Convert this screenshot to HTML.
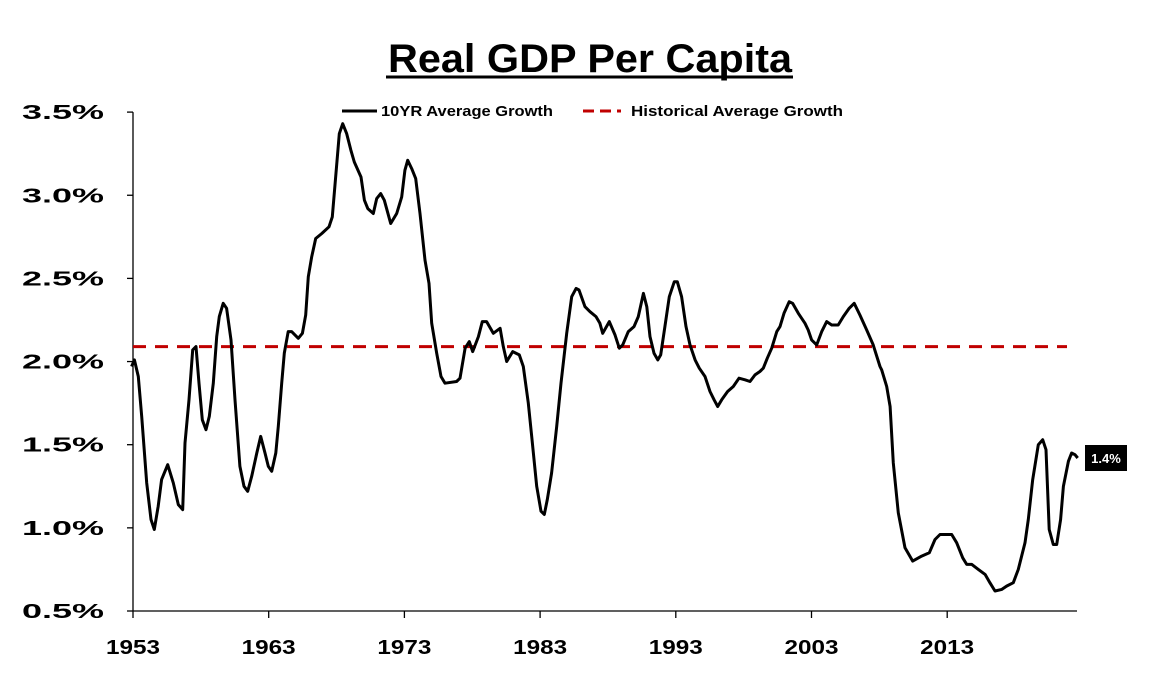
<!DOCTYPE html>
<html><head><meta charset="utf-8"><style>
html,body{margin:0;padding:0;background:#fff;}
svg{display:block;font-family:"Liberation Sans",sans-serif;}
</style></head><body>
<svg id="chart" width="1169" height="695" viewBox="0 0 1169 695">
<text x="388" y="72" textLength="404" lengthAdjust="spacingAndGlyphs" font-size="40" font-weight="bold" fill="#000">Real GDP Per Capita</text>
<line x1="386" y1="77" x2="793" y2="77" stroke="#000" stroke-width="3"/>
<g>
<line x1="342" y1="111" x2="377" y2="111" stroke="#000" stroke-width="3"/>
<text x="381" y="116" textLength="172" lengthAdjust="spacingAndGlyphs" font-size="15" font-weight="bold">10YR Average Growth</text>
<line x1="583" y1="111" x2="621" y2="111" stroke="#c00000" stroke-width="3" stroke-dasharray="11,6"/>
<text x="631" y="116" textLength="212" lengthAdjust="spacingAndGlyphs" font-size="15" font-weight="bold">Historical Average Growth</text>
</g>
<g id="axes"></g>
<g id="marks"></g>
</svg>
<script>
const years=[1952.9,1953.1,1953.39,1953.64,1954.01,1954.33,1954.57,1954.86,1955.11,1955.56,1955.97,1956.34,1956.66,1956.83,1957.13,1957.4,1957.64,1957.86,1958.11,1958.38,1958.62,1958.92,1959.17,1959.36,1959.65,1959.9,1960.22,1960.52,1960.88,1961.18,1961.45,1961.75,1962.12,1962.41,1962.73,1962.97,1963.22,1963.52,1963.71,1963.96,1964.15,1964.44,1964.69,1965.18,1965.48,1965.73,1965.92,1966.17,1966.46,1966.91,1967.44,1967.69,1967.89,1968.2,1968.45,1968.75,1969.06,1969.31,1969.8,1970.05,1970.3,1970.71,1970.96,1971.25,1971.52,1971.99,1972.43,1972.8,1973.04,1973.24,1973.54,1973.83,1974.15,1974.52,1974.81,1975.01,1975.38,1975.7,1975.99,1976.85,1977.1,1977.47,1977.78,1978.03,1978.45,1978.74,1979.06,1979.55,1980.05,1980.29,1980.54,1980.98,1981.47,1981.76,1982.13,1982.38,1982.75,1983.07,1983.31,1983.53,1983.85,1984.22,1984.54,1984.96,1985.33,1985.65,1985.87,1986.31,1986.68,1987.12,1987.41,1987.61,1988.1,1988.52,1988.84,1989.09,1989.5,1989.92,1990.24,1990.61,1990.86,1991.1,1991.39,1991.67,1991.89,1992.2,1992.52,1992.89,1993.11,1993.43,1993.75,1994.05,1994.42,1994.73,1995.15,1995.52,1995.82,1996.09,1996.38,1996.82,1997.24,1997.66,1998.1,1998.47,1998.84,1999.2,1999.45,1999.74,2000.07,2000.44,2000.68,2000.97,2001.36,2001.61,2002.03,2002.52,2002.76,2003.01,2003.38,2003.75,2004.12,2004.49,2004.97,2005.34,2005.78,2006.15,2006.57,2007.07,2007.55,2008.05,2008.17,2008.54,2008.79,2009.03,2009.4,2009.89,2010.46,2011.12,2011.68,2012.1,2012.47,2012.96,2013.33,2013.7,2014.14,2014.44,2014.81,2015.29,2015.79,2016.15,2016.52,2017.02,2017.38,2017.87,2018.24,2018.73,2018.98,2019.3,2019.71,2020.04,2020.28,2020.52,2020.82,2021.07,2021.36,2021.56,2021.93,2022.17,2022.42,2022.62];
const growth=[1.97,2.01,1.91,1.67,1.27,1.05,0.99,1.13,1.29,1.38,1.27,1.14,1.11,1.51,1.77,2.07,2.09,1.87,1.65,1.59,1.67,1.87,2.15,2.27,2.35,2.32,2.13,1.77,1.37,1.25,1.22,1.31,1.45,1.55,1.45,1.37,1.34,1.45,1.61,1.87,2.05,2.18,2.18,2.14,2.17,2.28,2.51,2.63,2.74,2.77,2.81,2.87,3.07,3.37,3.43,3.37,3.27,3.20,3.11,2.97,2.92,2.89,2.98,3.01,2.97,2.83,2.89,2.99,3.15,3.21,3.16,3.10,2.89,2.61,2.47,2.23,2.05,1.91,1.87,1.88,1.90,2.08,2.12,2.06,2.15,2.24,2.24,2.17,2.20,2.09,2.00,2.06,2.04,1.97,1.75,1.55,1.25,1.10,1.08,1.17,1.33,1.61,1.87,2.17,2.39,2.44,2.43,2.33,2.30,2.27,2.23,2.17,2.24,2.16,2.08,2.10,2.18,2.21,2.27,2.41,2.33,2.15,2.05,2.01,2.04,2.21,2.39,2.48,2.48,2.39,2.21,2.10,2.01,1.96,1.91,1.82,1.77,1.73,1.77,1.82,1.85,1.90,1.89,1.88,1.92,1.94,1.96,2.02,2.08,2.18,2.21,2.29,2.36,2.35,2.29,2.23,2.19,2.13,2.10,2.18,2.24,2.22,2.22,2.27,2.32,2.35,2.28,2.19,2.10,1.97,1.95,1.85,1.73,1.39,1.09,0.88,0.80,0.83,0.85,0.93,0.96,0.96,0.96,0.91,0.82,0.78,0.78,0.75,0.72,0.67,0.62,0.63,0.65,0.67,0.75,0.91,1.05,1.29,1.50,1.53,1.47,0.99,0.90,0.90,1.05,1.25,1.40,1.45,1.44,1.42];
const historicalAvg=[2.09];
const yTicks=[0.5,1.0,1.5,2.0,2.5,3.0,3.5];
const xTicks=[1953,1963,1973,1983,1993,2003,2013];
const lastLabel=["1.4%"];

const NS="http://www.w3.org/2000/svg";
const X=y=>133+(y-1953)*13.57;
const Y=v=>611-(v-0.5)*166.3;
function mk(tag,attrs,parent){const e=document.createElementNS(NS,tag);for(const k in attrs)e.setAttribute(k,attrs[k]);parent.appendChild(e);return e;}
const axes=document.getElementById('axes'),marks=document.getElementById('marks');

let e=mk('line',{x1:133,y1:Y(3.5),x2:133,y2:611,stroke:'#000','stroke-width':1.3},axes);


e=mk('line',{x1:133,y1:611,x2:1077,y2:611,stroke:'#000','stroke-width':1.3},axes);


yTicks.forEach(t=>{
  let l=mk('line',{x1:127,y1:Y(t),x2:133,y2:Y(t),stroke:'#000','stroke-width':1.3},axes);
  
  
  let tx=mk('text',{x:22,y:Y(t)+7,textLength:82,lengthAdjust:'spacingAndGlyphs','font-size':20,'font-weight':'bold'},axes);
  tx.textContent=t.toFixed(1)+'%';
  
  
});
xTicks.forEach(t=>{
  let l=mk('line',{x1:X(t),y1:611,x2:X(t),y2:618,stroke:'#000','stroke-width':1.3},axes);
  
  
  let tx=mk('text',{x:X(t)-27,y:654,textLength:54,lengthAdjust:'spacingAndGlyphs','font-size':20,'font-weight':'bold'},axes);
  tx.textContent=String(t);
  
  
});
let hl=mk('line',{x1:133,y1:Y(historicalAvg[0]),x2:1067,y2:Y(historicalAvg[0]),stroke:'#c00000','stroke-width':3,'stroke-dasharray':'13,9'},marks);


let d=years.map((yr,i)=>(i?'L':'M')+X(yr).toFixed(1)+','+Y(growth[i]).toFixed(1)).join('');
let p=mk('path',{d:d,fill:'none',stroke:'#000','stroke-width':3,'stroke-linejoin':'round'},marks);


const ly=Y(growth[growth.length-1]);
let r=mk('rect',{x:1085,y:ly-13,width:42,height:26,fill:'#000'},marks);


let lt=mk('text',{x:1106,y:ly+5,'text-anchor':'middle','font-size':13,'font-weight':'bold',fill:'#fff'},marks);
lt.textContent=lastLabel[0];


</script>
</body></html>
